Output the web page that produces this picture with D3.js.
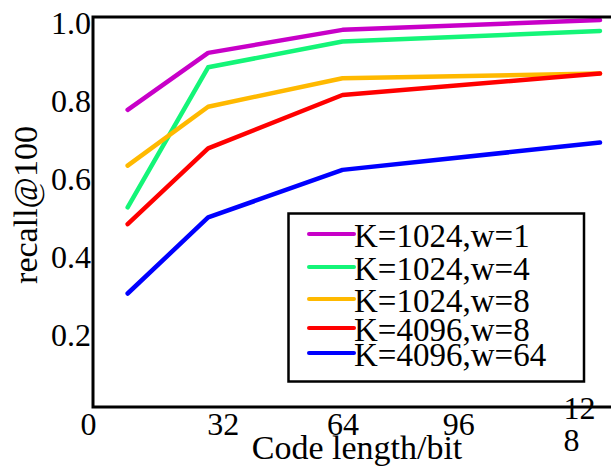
<!DOCTYPE html>
<html>
<head>
<meta charset="utf-8">
<script src="https://cdn.jsdelivr.net/npm/d3@7"></script>
<style>
  body { margin: 0; background: #fff; }
</style>
</head>
<body>
<svg id="chart" width="611" height="474"></svg>
<script>
var codeLengths = [10.6, 30.6, 64, 128];
var xTicks = [0, 32, 64, 96, 128];
var yTicks = [0.2, 0.4, 0.6, 0.8, 1.0];

var seriesNames = ['K=1024,w=1', 'K=1024,w=4', 'K=1024,w=8', 'K=4096,w=8', 'K=4096,w=64'];
var seriesColors = ['#c800c8', '#14f578', '#ffb900', '#ff0000', '#0000ff'];

var recallK1024w1 = [0.762, 0.908, 0.967, 0.992];
var recallK1024w4 = [0.512, 0.871, 0.937, 0.964];
var recallK1024w8 = [0.619, 0.770, 0.843, 0.855];
var recallK4096w8 = [0.469, 0.663, 0.800, 0.855];
var recallK4096w64 = [0.291, 0.486, 0.608, 0.678];

var allSeries = [recallK1024w1, recallK1024w4, recallK1024w8, recallK4096w8, recallK4096w64];

var serif = 'Liberation Serif';
var svg = d3.select('#chart').attr('font-family', serif);
var plotLeft = 93, plotTop = 17, plotBottom = 407;

var x = d3.scaleLinear().domain([0, 128]).range([85, 600]);
var y = d3.scaleLinear().domain([0, 1]).range([plotBottom, plotTop]);

// small nudges so tick labels sit where the original puts them
var tickNudge = { 0: 3, 32: 9, 64: 0, 96: -13, 128: 0 };

// x axis labels
var gx = svg.append('g')
  .attr('transform', 'translate(0,' + plotBottom + ')')
  .call(d3.axisBottom(x).tickValues(xTicks).tickSize(0).tickPadding(5));
gx.attr('font-family', serif);
gx.select('.domain').remove();
gx.selectAll('text')
  .style('font-size', '32px')
  .attr('fill', '#000')
  .attr('dx', function (d) { return tickNudge[d]; });
// the 128 label wraps in the original
gx.selectAll('.tick').filter(function (d) { return d === 128; }).select('text')
  .text(null)
  .attr('text-anchor', 'start')
  .attr('dx', null)
  .attr('dy', null)
  .attr('y', 0)
  .call(function (t) {
    t.append('tspan').attr('x', -37).attr('y', 12).text('12');
    t.append('tspan').attr('x', -37).attr('y', 44).text('8');
  });

// y axis labels
var gy = svg.append('g')
  .attr('transform', 'translate(' + plotLeft + ',0)')
  .call(d3.axisLeft(y).tickValues(yTicks).tickSize(0).tickPadding(2).tickFormat(d3.format('.1f')));
gy.attr('font-family', serif);
gy.select('.domain').remove();
gy.selectAll('text')
  .style('font-size', '32px')
  .attr('fill', '#000')
  .attr('dy', '0.52em');

// data lines
var line = d3.line()
  .x(function (d, i) { return x(codeLengths[i]); })
  .y(function (d) { return y(d); });

svg.append('g').selectAll('path')
  .data(allSeries)
  .join('path')
  .attr('d', line)
  .attr('fill', 'none')
  .attr('stroke', function (d, i) { return seriesColors[i]; })
  .attr('stroke-width', 4.5)
  .attr('stroke-linecap', 'round')
  .attr('stroke-linejoin', 'round');

// frame (right side runs off the picture)
svg.append('path')
  .attr('d', 'M611,' + plotTop + 'H' + plotLeft + 'V' + plotBottom + 'H611')
  .attr('fill', 'none')
  .attr('stroke', '#000')
  .attr('stroke-width', 3);

// axis titles
svg.append('text')
  .attr('transform', 'translate(37,205) rotate(-90)')
  .attr('text-anchor', 'middle')
  .style('font-size', '34px')
  .text('recall@100');

svg.append('text')
  .attr('x', 357)
  .attr('y', 459)
  .attr('text-anchor', 'middle')
  .style('font-size', '34px')
  .text('Code length/bit');

// legend
var legendRows = [234, 267, 299, 328, 353];
var legend = svg.append('g');
legend.append('rect')
  .attr('x', 288.5).attr('y', 213.5)
  .attr('width', 295.5).attr('height', 168)
  .attr('fill', '#fff')
  .attr('stroke', '#000')
  .attr('stroke-width', 2.5);

var items = legend.selectAll('g.item')
  .data(seriesNames)
  .join('g')
  .attr('class', 'item')
  .attr('transform', function (d, i) { return 'translate(0,' + legendRows[i] + ')'; });

items.append('line')
  .attr('x1', 309).attr('x2', 354)
  .attr('stroke', function (d, i) { return seriesColors[i]; })
  .attr('stroke-width', 4)
  .attr('stroke-linecap', 'round');

items.append('text')
  .attr('x', 354)
  .attr('dy', '0.4em')
  .style('font-size', '33px')
  .text(function (d) { return d; });
</script>
</body>
</html>
